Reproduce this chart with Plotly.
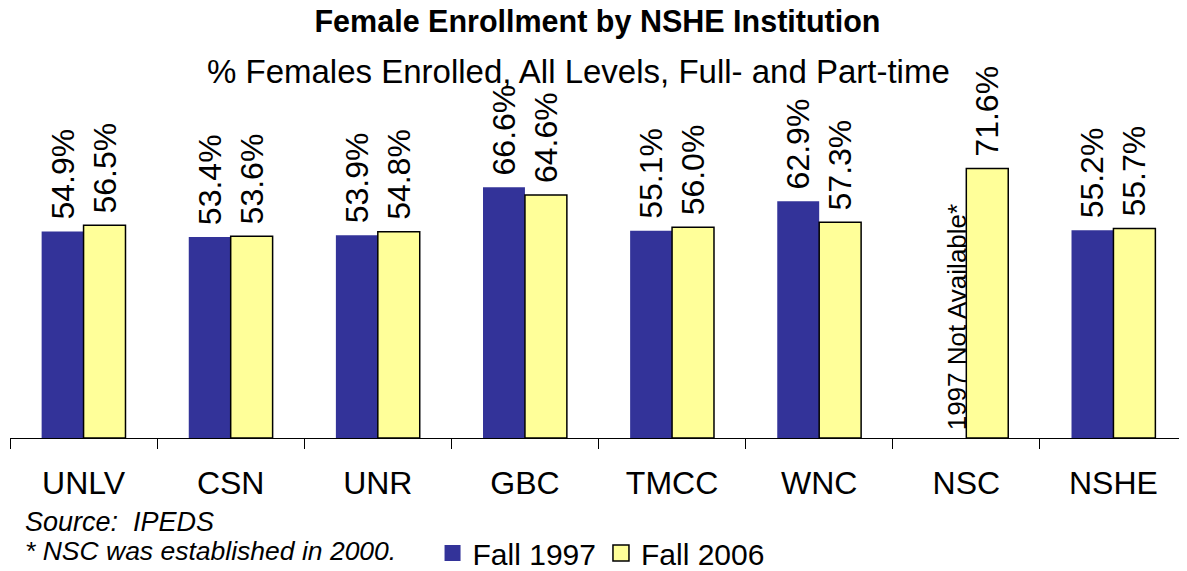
import plotly.graph_objects as go

institutions = ['UNLV', 'CSN', 'UNR', 'GBC', 'TMCC', 'WNC', 'NSC', 'NSHE']
fall_1997 = [54.9, 53.4, 53.9, 66.6, 55.1, 62.9, None, 55.2]
fall_2006 = [56.5, 53.6, 54.8, 64.6, 56.0, 57.3, 71.6, 55.7]

font = 'Arial, Liberation Sans, sans-serif'
blue = '#333399'
yellow = '#FFFF99'

fig = go.Figure()
fig.add_trace(go.Bar(x=institutions, y=fall_1997, name='Fall 1997', showlegend=False,
                     marker=dict(color=blue, line=dict(color=blue, width=0)),
                     texttemplate='\u00a0%{y:.1f}%', textposition='outside', textangle=-90,
                     constraintext='none', cliponaxis=False,
                     textfont=dict(size=32, color='black', family=font)))
fig.add_trace(go.Bar(x=institutions, y=fall_2006, name='Fall 2006', showlegend=False,
                     marker=dict(color=yellow, line=dict(color='black', width=1.5)),
                     texttemplate='\u00a0%{y:.1f}%', textposition='outside', textangle=-90,
                     constraintext='none', cliponaxis=False,
                     textfont=dict(size=32, color='black', family=font)))

# legend entries with bigger square swatches
fig.add_trace(go.Scatter(x=[None], y=[None], mode='markers', name='Fall 1997',
                         marker=dict(symbol='square', size=16, color=blue)))
fig.add_trace(go.Scatter(x=[None], y=[None], mode='markers', name='Fall 2006',
                         marker=dict(symbol='square', size=16, color=yellow,
                                     line=dict(color='black', width=1.5))))

# page body shifts the figure 8px to the right
fig.update_layout(
    width=1179, height=571,
    margin=dict(l=2, r=0, t=80, b=135),
    paper_bgcolor='white', plot_bgcolor='white',
    barmode='group', bargap=0.43, bargroupgap=0,
    font=dict(family=font, color='black'),
    title=dict(text='<b>Female Enrollment by NSHE Institution</b>',
               x=0.5, xanchor='center', y=1, yanchor='top', pad=dict(t=3),
               font=dict(size=30.5, color='black', family=font)),
    legend=dict(orientation='h', x=0.359, xanchor='left', y=-0.329, yanchor='middle',
                font=dict(size=30, color='black', family=font),
                itemclick=False, traceorder='normal', itemsizing='trace'),
    showlegend=True,
)

fig.update_xaxes(showline=True, linecolor='black', linewidth=1,
                 ticks='outside', tickson='boundaries', ticklen=10,
                 tickcolor='black', tickwidth=1, ticklabelstandoff=17,
                 tickfont=dict(size=32, color='black', family=font),
                 showgrid=False, fixedrange=True, automargin=False)
fig.update_yaxes(visible=False, range=[0, 93.0], fixedrange=True)

fig.add_annotation(text='% Females Enrolled, All Levels, Full- and Part-time',
                   xref='paper', yref='paper', x=0.4834, y=1.048,
                   xanchor='center', yanchor='middle', showarrow=False,
                   font=dict(size=33, color='black', family=font))
fig.add_annotation(text='1997 Not Available*', x='NSC', y=0, xref='x', yref='y',
                   textangle=-90, xanchor='center', yanchor='bottom',
                   xshift=-9, yshift=6, showarrow=False,
                   font=dict(size=26, color='black', family=font))
fig.add_annotation(text='<i>Source:  IPEDS</i>', xref='paper', yref='paper',
                   x=0.011, y=-0.239, xanchor='left', yanchor='middle', showarrow=False,
                   font=dict(size=27, color='black', family=font))
fig.add_annotation(text='<i>* NSC was established in 2000.</i>', xref='paper', yref='paper',
                   x=0.011, y=-0.323, xanchor='left', yanchor='middle', showarrow=False,
                   font=dict(size=26.5, color='black', family=font))

fig.write_html('out.html')
